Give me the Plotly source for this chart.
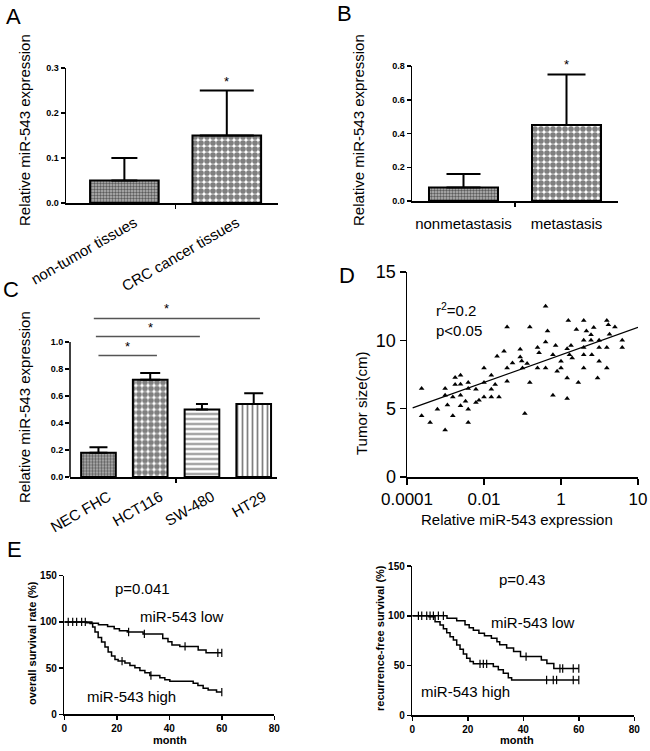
import numpy as np
import plotly.graph_objects as go

FONT = "Liberation Sans, Arial, sans-serif"

# ---------------- data ----------------
# Panel A
a_cats = ["non-tumor tissues", "CRC cancer tissues"]
a_mean = [0.05, 0.15]
a_top = [0.10, 0.25]
# Panel B
b_cats = ["nonmetastasis", "metastasis"]
b_mean = [0.08, 0.45]
b_top = [0.16, 0.75]
# Panel C
c_cats = ["NEC FHC", "HCT116", "SW-480", "HT29"]
c_mean = [0.18, 0.72, 0.50, 0.54]
c_top = [0.22, 0.77, 0.54, 0.62]
c_sig_from = [0.0, -0.05, -0.09]
c_sig_to = [1.13, 1.96, 3.12]
c_sig_y = [0.90, 1.04, 1.175]
c_star_x = [0.56, 1.01, 1.31]
# Panel D  (log10 of relative miR-543 expression, tumor size cm)
d_log_expr = [-3.62, -3.62, -3.40, -3.21, -3.01, -3.01, -3.01, -2.95, -2.81, -2.81,
              -2.75, -2.75, -2.61, -2.61, -2.61, -2.61, -2.48, -2.41, -2.41, -2.41,
              -2.41, -2.21, -2.21, -2.13, -2.00, -2.00, -2.00, -1.81, -1.81, -1.81,
              -1.71, -1.61, -1.66, -1.48, -1.40, -1.40, -1.26, -1.40, -1.06, -1.06,
              -1.02, -1.00, -0.94, -0.81, -0.81, -0.88, -0.61, -0.57, -0.61, -0.40,
              -0.40, -0.40, -0.35, -0.21, -0.21, -0.14, -0.10, 0.00, 0.00, 0.16,
              0.16, 0.16, 0.19, 0.22, 0.26, 0.29, 0.40, 0.45, 0.59, 0.59,
              0.59, 0.59, 0.59, 0.66, 0.78, 0.78, 0.80, 0.85, 0.95, 0.99,
              0.99, 0.99, 1.19, 1.23, 1.19, 1.19, 1.26, 1.40, 1.59, 1.59]
d_size = [6.47, 4.48, 3.99, 4.96, 6.47, 5.98, 3.43, 5.26, 4.48, 5.86,
          7.28, 6.76, 7.45, 6.79, 5.98, 5.21, 5.55, 6.91, 6.47, 4.96,
          3.99, 6.42, 5.45, 5.62, 7.98, 6.91, 5.86, 7.45, 6.42, 5.86,
          6.76, 5.86, 8.83, 9.20, 7.98, 10.97, 8.34, 7.00, 9.34, 8.78,
          8.49, 7.98, 4.65, 10.97, 6.91, 8.30, 9.47, 9.10, 7.98, 12.50,
          9.88, 7.98, 10.68, 8.95, 5.98, 9.63, 7.74, 8.47, 7.98, 9.39,
          7.25, 5.74, 11.46, 8.95, 9.63, 8.71, 10.80, 6.91, 11.46, 10.00,
          9.47, 8.95, 7.98, 10.68, 10.41, 10.00, 8.95, 10.93, 7.25, 10.00,
          9.47, 8.47, 11.46, 11.14, 9.47, 7.98, 10.44, 10.97, 10.00, 9.47]
d_fit_x = [0.00014, 100.0]
d_fit_y = [5.05, 10.95]
d_xticks = [0.0001, 0.01, 1, 100]
d_xticktext = ["0.0001", "0.01", "1", "10"]
# Panel E - overall survival
os_low_m = [0, 10.5, 13, 16.5, 19, 21, 24, 30, 37.5, 39.5, 41, 44, 51, 54, 60]
os_low_s = [100, 98.5, 97, 95, 92.5, 90.5, 89, 87, 82, 78.5, 75, 73.5, 69.5, 66.5, 66.5]
os_high_m = [0, 8.5, 9.8, 10.8, 11.7, 12.9, 14.2, 15.5, 16.7, 18.0, 19.3, 20.5, 23.1,
             25.0, 26.9, 28.8, 30.7, 32.6, 36.4, 38.3, 40.2, 49.1, 50.9, 52.9, 54.8, 58, 60]
os_high_s = [100, 99, 98.2, 94.6, 89.1, 83, 78.3, 72.8, 67.4, 63, 59.4, 57.6, 55.4,
             52.9, 50.4, 47.5, 44.9, 42, 39.5, 37.3, 35.9, 33.7, 31.2, 28.3, 26.4, 24, 24]
os_low_cens_m = [1.5, 3.2, 4.7, 6.6, 8.0, 24.5, 30.5, 46, 58.5, 60]
os_low_cens_s = [100, 100, 100, 100, 100, 89, 87, 73.5, 66.5, 66.5]
os_high_cens_m = [22, 33, 60]
os_high_cens_s = [57.6, 42, 24]
# Panel E - recurrence-free survival
rfs_low_m = [0, 12.5, 16, 19, 20.5, 22, 24, 26, 28.5, 30.5, 31.5, 34, 36.5, 39, 46.5, 48.5, 51, 60]
rfs_low_s = [100, 97.5, 95, 91, 88, 85.5, 82.5, 80, 77.5, 74, 71, 67.5, 64, 59, 55.5, 52, 47, 47]
rfs_high_m = [0, 6, 8.2, 10, 11.2, 12.4, 13.6, 14.8, 16, 17.2, 18.4, 19.6, 20.8, 22,
              29.2, 31, 32.8, 34.6, 35.8, 60]
rfs_high_s = [100, 99, 94, 90.7, 87, 83, 79, 75.7, 70.7, 66.3, 61.7, 57.3, 54, 51.7,
              49, 45.7, 42.3, 37.7, 35.5, 35.5]
rfs_low_cens_m = [2.2, 3.4, 5.2, 6.4, 7.6, 9.4, 11.2, 41, 53.2, 54.2, 58, 60]
rfs_low_cens_s = [100, 100, 100, 100, 100, 100, 100, 59, 47, 47, 47, 47]
rfs_high_cens_m = [24.4, 25.6, 26.8, 48.4, 50.8, 52, 58, 60]
rfs_high_cens_s = [51.7, 51.7, 51.7, 35.5, 35.5, 35.5, 35.5, 35.5]

# ---------------- styles ----------------
W, H = 650, 751
def px_x(p):
    return p / W
def px_y(p):
    return 1 - p / H

dom = {
    "A": ([px_x(66), px_x(278)], [px_y(203), px_y(68)]),
    "B": ([px_x(412), px_x(618)], [px_y(201), px_y(66)]),
    "C": ([px_x(70), px_x(277)], [px_y(477), px_y(301.5)]),
    "D": ([px_x(407), px_x(638)], [px_y(477), px_y(272)]),
    "E1": ([px_x(64.3), px_x(274.3)], [px_y(714.3), px_y(575.7)]),
    "E2": ([px_x(412.3), px_x(634.3)], [px_y(715.3), px_y(566)]),
}
rng = {"A": [-0.57, 1.5], "B": [-0.5, 1.5], "C": [-0.55, 3.45]}

fine = dict(shape=".", size=3, solidity=0.5, fgcolor="black", bgcolor="#b8b8b8")
check = dict(shape=".", size=6, solidity=0.7, fgcolor="black", bgcolor="white")
hlines = dict(shape="-", size=5, solidity=0.35, fgcolor="black", bgcolor="white")
vlines = dict(shape="|", size=5, solidity=0.35, fgcolor="black", bgcolor="white")

fig = go.Figure()

def add_bars(cats, mean, top, patterns, capw, xa, ya):
    for i in range(len(cats)):
        fig.add_trace(go.Bar(
            x=[i], y=[mean[i]], width=0.67,
            marker=dict(color="white", pattern=patterns[i],
                        line=dict(color="black", width=2)),
            error_y=dict(type="data", symmetric=False, array=[top[i] - mean[i]],
                         arrayminus=[0], color="black", thickness=2, width=capw[i]),
            xaxis=xa, yaxis=ya, showlegend=False, hoverinfo="skip"))

add_bars(a_cats, a_mean, a_top, [fine, check], [13, 27], "x", "y")
add_bars(b_cats, b_mean, b_top, [fine, check], [17, 19], "x2", "y2")
add_bars(c_cats, c_mean, c_top, [fine, check, hlines, vlines], [9, 10, 6, 9.5], "x3", "y3")

# significance lines in C
shapes = []
for x0, x1, yv in zip(c_sig_from, c_sig_to, c_sig_y):
    shapes.append(dict(type="line", xref="x3", yref="y3", x0=x0, x1=x1, y0=yv, y1=yv,
                       line=dict(color="#555", width=1.5)))
# C y-axis line up to 1.0
cy0, cy1 = dom["C"][1]
shapes.append(dict(type="line", xref="paper", yref="paper", x0=dom["C"][0][0], x1=dom["C"][0][0],
                   y0=cy0, y1=cy0 + (cy1 - cy0) * (1.0 / 1.3), line=dict(color="black", width=1.5)))

# D scatter
d_x = [10 ** v for v in d_log_expr]
fig.add_trace(go.Scatter(x=d_x, y=d_size, mode="markers",
                         marker=dict(symbol="triangle-up", size=5, color="black"),
                         xaxis="x4", yaxis="y4", showlegend=False, cliponaxis=False))
fig.add_trace(go.Scatter(x=d_fit_x, y=d_fit_y, mode="lines", line=dict(color="black", width=1.3),
                         xaxis="x4", yaxis="y4", showlegend=False))

# E curves
def km(m, s, xa, ya):
    fig.add_trace(go.Scatter(x=m, y=s, mode="lines", line=dict(color="black", width=1.5, shape="hv"),
                             xaxis=xa, yaxis=ya, showlegend=False))
def cens(m, s, xa, ya):
    fig.add_trace(go.Scatter(x=m, y=s, mode="markers",
                             marker=dict(symbol="line-ns", size=6, line=dict(color="black", width=1.2)),
                             xaxis=xa, yaxis=ya, showlegend=False, cliponaxis=False))

km(os_low_m, os_low_s, "x5", "y5"); km(os_high_m, os_high_s, "x5", "y5")
cens(os_low_cens_m, os_low_cens_s, "x5", "y5"); cens(os_high_cens_m, os_high_cens_s, "x5", "y5")
km(rfs_low_m, rfs_low_s, "x6", "y6"); km(rfs_high_m, rfs_high_s, "x6", "y6")
cens(rfs_low_cens_m, rfs_low_cens_s, "x6", "y6"); cens(rfs_high_cens_m, rfs_high_cens_s, "x6", "y6")

# ---------------- axes ----------------
bold9 = dict(family=FONT, size=9, color="black", weight="bold")
norm15 = dict(family=FONT, size=15, color="black")

def bar_x(key, cats, angle, anchor, shift=0, standoff=0):
    n = len(cats)
    return dict(domain=dom[key][0], range=rng[key], tickmode="array", tickvals=list(range(n)),
                ticktext=cats, tickangle=angle, ticks="", showline=True, linecolor="black",
                linewidth=1.5, showgrid=False, zeroline=False, tickfont=norm15, anchor=anchor,
                automargin=False, ticklabelshift=shift, ticklabelstandoff=standoff,
                minor=dict(tickmode="array", tickvals=[(n - 1) / 2], ticks="outside", ticklen=4,
                           tickwidth=1.5, tickcolor="black", showgrid=False))

def bar_y(key, r, tv, anchor, showline=True):
    return dict(domain=dom[key][1], range=r, tickmode="array", tickvals=tv,
                ticktext=["%.1f" % v for v in tv], ticks="outside", ticklen=4, tickwidth=1.5,
                tickcolor="black", showline=showline, linecolor="black", linewidth=1.5,
                showgrid=False, zeroline=False, tickfont=bold9, anchor=anchor, automargin=False)

def e_axes(key, anchor_x, anchor_y):
    tf = dict(family=FONT, size=10, color="black", weight="bold")
    xa = dict(domain=dom[key][0], range=[0, 80], tickmode="array", tickvals=[0, 20, 40, 60, 80],
              ticks="outside", ticklen=4, tickwidth=1.5, tickcolor="black", showline=True,
              linecolor="black", linewidth=1.5, showgrid=False, zeroline=False,
              tickfont=tf, anchor=anchor_y, automargin=False)
    ya = dict(domain=dom[key][1], range=[0, 150], tickmode="array", tickvals=[0, 50, 100, 150],
              ticks="outside", ticklen=4, tickwidth=1.5, tickcolor="black", showline=True,
              linecolor="black", linewidth=1.5, showgrid=False, zeroline=False,
              tickfont=tf, anchor=anchor_x, automargin=False)
    return xa, ya

x5, y5 = e_axes("E1", "x5", "y5")
x6, y6 = e_axes("E2", "x6", "y6")

layout = dict(
    width=W, height=H, autosize=False, margin=dict(l=0, r=0, t=0, b=0, pad=0, autoexpand=False),
    paper_bgcolor="white", plot_bgcolor="white", showlegend=False, bargap=0, hovermode=False,
    xaxis=bar_x("A", a_cats, -30, "y", shift=10, standoff=4),
    yaxis=bar_y("A", [0, 0.3], [0, 0.1, 0.2, 0.3], "x"),
    xaxis2=bar_x("B", b_cats, 0, "y2", standoff=8),
    yaxis2=bar_y("B", [0, 0.8], [0, 0.2, 0.4, 0.6, 0.8], "x2"),
    xaxis3=bar_x("C", c_cats, -30, "y3", shift=10, standoff=4),
    yaxis3=bar_y("C", [0, 1.3], [0, 0.2, 0.4, 0.6, 0.8, 1.0], "x3", showline=False),
    xaxis4=dict(domain=dom["D"][0], type="log", range=[-4, 2], tickmode="array",
                tickvals=d_xticks, ticktext=d_xticktext, ticks="outside", ticklen=6, tickwidth=1.5,
                tickcolor="black", showline=True, linecolor="black", linewidth=1.5, showgrid=False,
                zeroline=False, tickfont=dict(family=FONT, size=17, color="black"), anchor="y4",
                automargin=False),
    yaxis4=dict(domain=dom["D"][1], range=[0, 15], tickmode="array", tickvals=[0, 5, 10, 15],
                ticks="outside", ticklen=6, tickwidth=1.5, tickcolor="black", showline=True,
                linecolor="black", linewidth=1.5, showgrid=False, zeroline=False,
                tickfont=dict(family=FONT, size=18, color="black"), anchor="x4", automargin=False),
    xaxis5=x5, yaxis5=y5, xaxis6=x6, yaxis6=y6,
    shapes=shapes,
)
fig.update_layout(**layout)

# ---------------- annotations ----------------
ann = []
def txt(text, x, y, size=15, angle=0, bold=False, xanchor="center", yanchor="middle", xref="paper", yref="paper"):
    f = dict(family=FONT, size=size, color="black")
    if bold:
        f["weight"] = "bold"
    ann.append(dict(text=text, x=x, y=y, xref=xref, yref=yref, showarrow=False, textangle=angle,
                    font=f, xanchor=xanchor, yanchor=yanchor))

# panel letters
txt("A", px_x(13), px_y(16), size=22)
txt("B", px_x(344), px_y(14), size=22)
txt("C", px_x(11), px_y(289), size=22)
txt("D", px_x(347), px_y(276), size=22)
txt("E", px_x(14), px_y(549), size=22)
# axis titles
txt("Relative miR-543 expression", px_x(24), px_y(130), angle=-90)
txt("Relative miR-543 expression", px_x(358), px_y(130), angle=-90)
txt("Relative miR-543 expression", px_x(24), px_y(407), angle=-90)
txt("Tumor size(cm)", px_x(361), px_y(403), angle=-90)
txt("Relative miR-543 expression", px_x(517), px_y(519))
txt("overall survival rate (%)", px_x(32), px_y(643), size=11, angle=-90, bold=True)
txt("recurrence-free survival (%)", px_x(380), px_y(638), size=11, angle=-90, bold=True)
txt("month", px_x(170), px_y(740), size=11, bold=True)
txt("month", px_x(517), px_y(740), size=11, bold=True)
# stars
txt("*", 1, a_top[1], size=13, xref="x", yref="y", yanchor="bottom")
txt("*", 1, b_top[1], size=13, xref="x2", yref="y2", yanchor="bottom")
for sx, sy in zip(c_star_x, c_sig_y):
    txt("*", sx, sy, size=13, xref="x3", yref="y3", yanchor="bottom")
# D stats
txt("r<sup>2</sup>=0.2", px_x(434), px_y(310), xanchor="left")
txt("p<0.05", px_x(434), px_y(330), xanchor="left")
# E texts
txt("p=0.041", px_x(142), px_y(588))
txt("miR-543 low", px_x(182), px_y(616))
txt("miR-543 high", px_x(131), px_y(696))
txt("p=0.43", px_x(522), px_y(579))
txt("miR-543 low", px_x(533), px_y(622))
txt("miR-543 high", px_x(465), px_y(691))

fig.update_layout(annotations=ann)
fig.write_html("out.html", config={"displayModeBar": False, "staticPlot": True},
               post_script="document.body.style.margin='0px';document.body.style.padding='0px';")
